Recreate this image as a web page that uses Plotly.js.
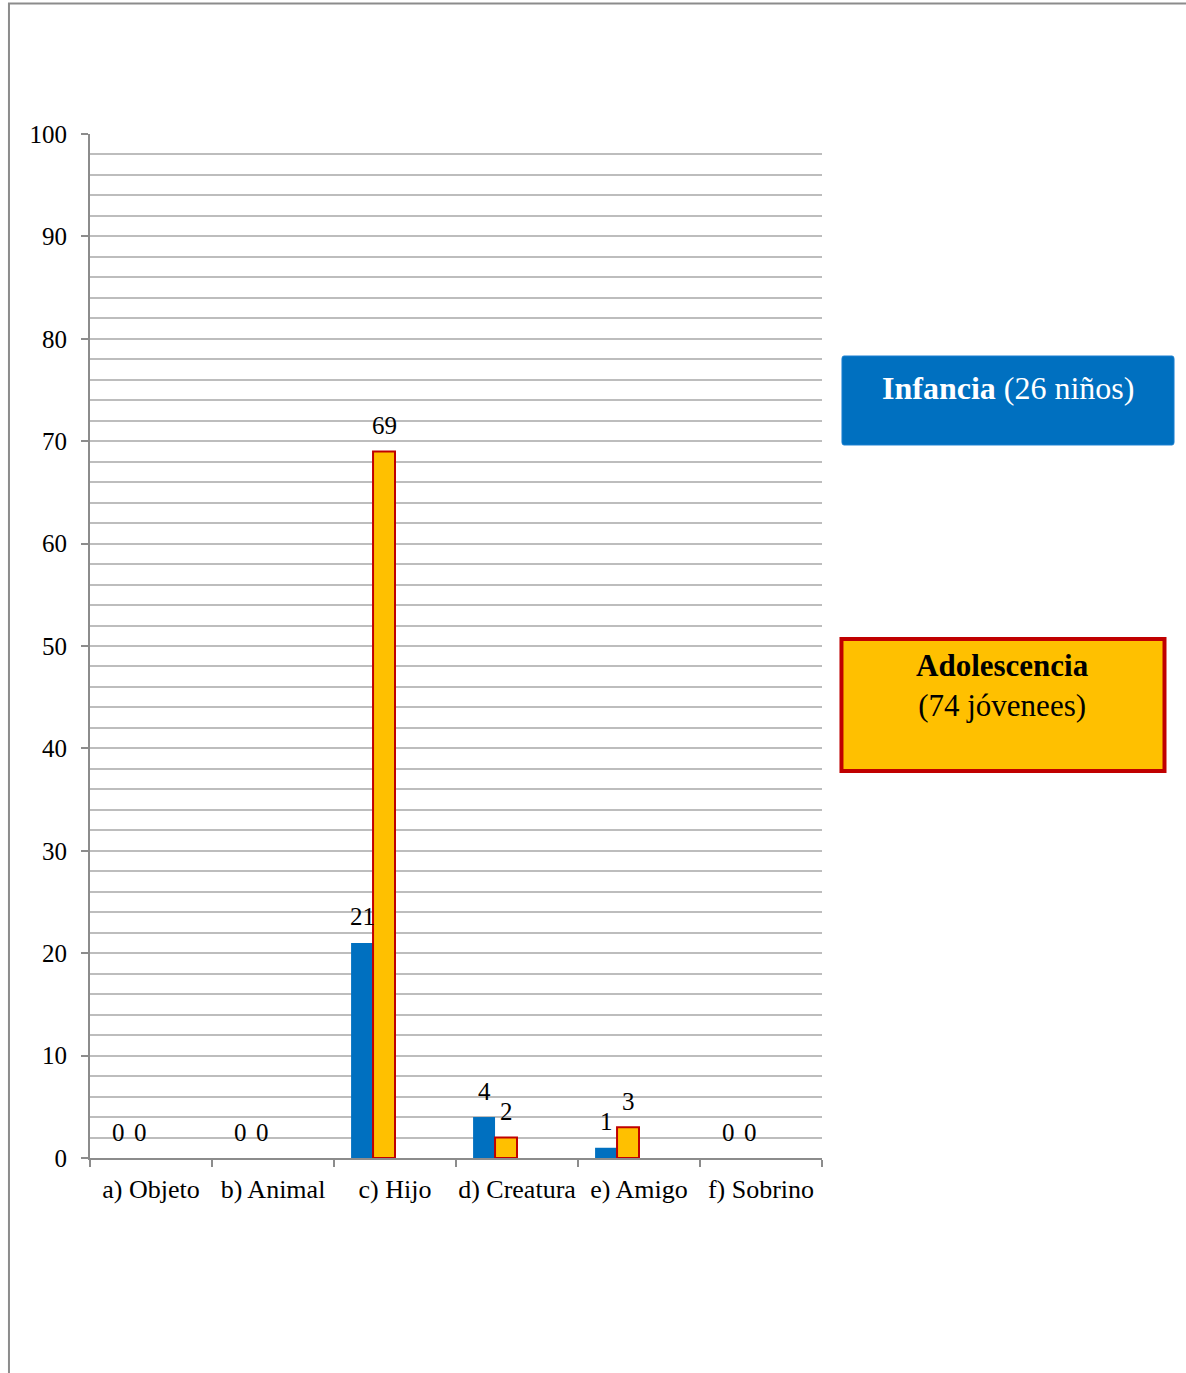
<!DOCTYPE html>
<html>
<head>
<meta charset="utf-8">
<script src="https://cdn.plot.ly/plotly-3.0.1.min.js"></script>
<style>html,body{margin:0;padding:0;background:#fff;}#chart{width:1186px;height:1373px;}</style>
</head>
<body>
<div id="chart"></div>
<script>
const categories = ["a) Objeto", "b) Animal", "c) Hijo", "d) Creatura", "e) Amigo", "f) Sobrino"];
const infancia = [0, 0, 21, 4, 1, 0];
const adolescencia = [0, 0, 69, 2, 3, 0];
const seriesNames = ["Infancia (26 niños)", "Adolescencia (74 jóvenees)"];
const yTicks = [0, 10, 20, 30, 40, 50, 60, 70, 80, 90, 100];

const FONT = "Liberation Serif, Times New Roman, serif";
const BLUE = "#0070c0", ORANGE = "#ffc000", RED = "#c00000";

const traces = [
  {type: "bar", name: seriesNames[0], x: categories, y: infancia,
   width: 0.18, offset: -0.36, marker: {color: BLUE, line: {width: 0}}, hoverinfo: "x+y"},
  {type: "bar", name: seriesNames[1], x: categories, y: adolescencia,
   width: 0.18, offset: -0.18,
   marker: {color: ORANGE, line: {color: RED, width: adolescencia.map(v => v > 0 ? 2 : 0)}},
   hoverinfo: "x+y"}
];

const annotations = [];
categories.forEach((c, i) => {
  annotations.push({x: c, y: infancia[i], xref: "x", yref: "y", text: String(infancia[i]),
    showarrow: false, xshift: -33, yshift: 26, yanchor: "middle",
    font: {family: FONT, size: 25, color: "#000"}});
  annotations.push({x: c, y: adolescencia[i], xref: "x", yref: "y", text: String(adolescencia[i]),
    showarrow: false, xshift: -11, yshift: 26, yanchor: "middle",
    font: {family: FONT, size: 25, color: "#000"}});
});

// legend boxes (custom, as in the original)
annotations.push({xref: "paper", yref: "paper", x: 1.254, y: 0.752, yanchor: "middle", xanchor: "center",
  showarrow: false, text: "<b>Infancia</b> (26 niños)", font: {family: FONT, size: 32, color: "#fff"}});
annotations.push({xref: "paper", yref: "paper", x: 1.247, y: 0.461, yanchor: "middle", xanchor: "center",
  showarrow: false, text: "<b>Adolescencia</b><br>(74 jóvenees)", font: {family: FONT, size: 31, color: "#000"}});

const shapes = [
  {type: "path", xref: "paper", yref: "paper",
   path: "M -0.1107,-0.25 L -0.1107,1.1275 L 1.55,1.1275",
   line: {color: "#8c8c8c", width: 2}},
  {type: "path", xref: "paper", yref: "paper",
   path: "M 1.0300,0.6963 L 1.4782,0.6963 Q 1.4809,0.6963 1.4809,0.6990 L 1.4809,0.7805 Q 1.4809,0.7832 1.4782,0.7832 L 1.0300,0.7832 Q 1.0273,0.7832 1.0273,0.7805 L 1.0273,0.6990 Q 1.0273,0.6963 1.0300,0.6963 Z",
   fillcolor: BLUE, line: {color: "#1a7fd0", width: 1}},
  {type: "rect", xref: "paper", yref: "paper", x0: 1.0266, x1: 1.4679, y0: 0.3779, y1: 0.5069,
   fillcolor: ORANGE, line: {color: RED, width: 4}}
];

const layout = {
  width: 1186, height: 1373,
  margin: {l: 90, r: 364, t: 134, b: 215},
  paper_bgcolor: "#fff", plot_bgcolor: "#fff",
  showlegend: false,
  barmode: "group",
  font: {family: FONT, size: 25, color: "#000"},
  xaxis: {type: "category", showline: true, linecolor: "#8c8c8c", linewidth: 2,
    ticks: "outside", tickson: "boundaries", ticklen: 7, tickwidth: 2, tickcolor: "#8c8c8c",
    tickangle: 0, ticklabelstandoff: 7,
    tickfont: {family: FONT, size: 26, color: "#000"}, showgrid: false, fixedrange: true},
  yaxis: {range: [0, 100], tickvals: yTicks, showline: true, linecolor: "#8c8c8c", linewidth: 2,
    ticks: "outside", ticklen: 7, tickwidth: 2, tickcolor: "#8c8c8c", ticklabelstandoff: 9,
    tickfont: {family: FONT, size: 25, color: "#000"},
    showgrid: true, gridcolor: "#bdbdbd", gridwidth: 2, zeroline: false,
    minor: {dtick: 2, showgrid: true, gridcolor: "#bdbdbd", gridwidth: 2},
    fixedrange: true},
  annotations: annotations,
  shapes: shapes
};

Plotly.newPlot("chart", traces, layout, {displayModeBar: false, staticPlot: true});
</script>
</body>
</html>
